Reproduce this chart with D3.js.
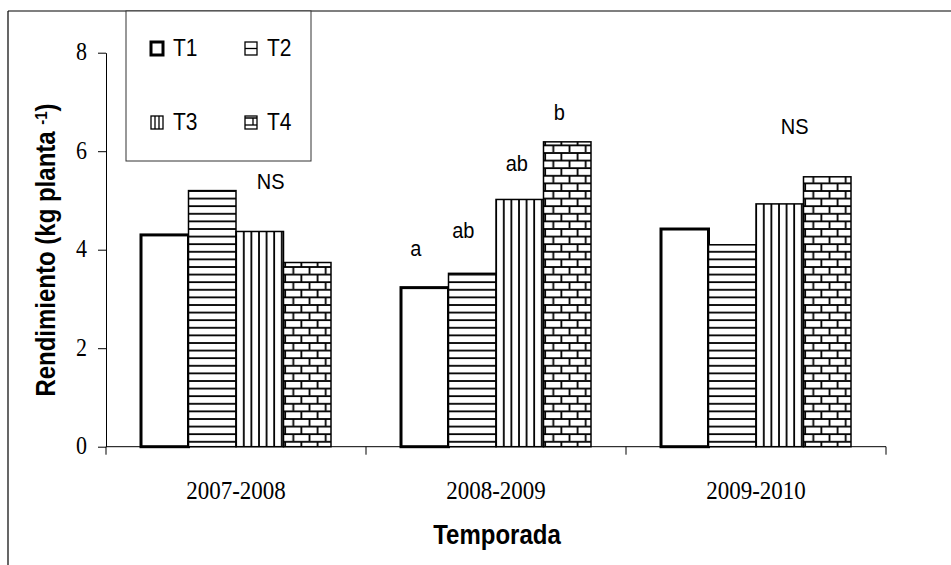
<!DOCTYPE html>
<html>
<head>
<meta charset="utf-8">
<script src="https://cdn.jsdelivr.net/npm/d3@7/dist/d3.min.js"></script>
<style>
  html, body { margin: 0; padding: 0; background: #fff; }
  svg { display: block; }
</style>
</head>
<body>
<svg id="chart" width="951" height="565"></svg>
<script>
// Yield per plant by season and treatment
const seasons = ["2007-2008", "2008-2009", "2009-2010"];
const treatments = ["T1", "T2", "T3", "T4"];
const yieldT1 = [4.30, 3.23, 4.42];
const yieldT2 = [5.20, 3.52, 4.10];
const yieldT3 = [4.37, 5.02, 4.93];
const yieldT4 = [3.74, 6.19, 5.48];
const yTicks = [0, 2, 4, 6, 8];
// significance letters: [season index, treatment index, text]
const letters = [
  [0, 2, "NS"],
  [1, 0, "a"],
  [1, 1, "ab"],
  [1, 2, "ab"],
  [1, 3, "b"],
  [2, 2, "NS"]
];

const series = [yieldT1, yieldT2, yieldT3, yieldT4];

const svg = d3.select("#chart");
const W = 951, H = 565;
const SANS = "'Liberation Sans', Arial, sans-serif";
const SERIF = "'Liberation Serif', 'Times New Roman', serif";
const TALL = 1.12; // glyphs are drawn slightly taller than wide

// place a text element at (x, y) with the tall glyph stretch
function placeText(sel, fx, fy) {
  sel.attr("x", 0).attr("y", 0)
    .attr("transform", (d, i) => `translate(${fx(d, i)},${fy(d, i)}) scale(1,${TALL})`);
}

// plot area
const plot = { left: 106, right: 886, top: 52.7, bottom: 446.7 };

const x0 = d3.scaleBand().domain(seasons).range([plot.left, plot.right]).padding(0);
const x1 = d3.scaleBand().domain(treatments).range([0, x0.bandwidth()])
  .paddingInner(0).paddingOuter(0.737);
const y = d3.scaleLinear().domain([0, 8]).range([plot.bottom, plot.top]);

// fill patterns
const defs = svg.append("defs");
const u = 7.6;
const pH = defs.append("pattern").attr("id", "pat-h").attr("patternUnits", "userSpaceOnUse")
  .attr("width", u).attr("height", u);
pH.append("rect").attr("width", u).attr("height", u).attr("fill", "#fff");
pH.append("line").attr("x1", 0).attr("x2", u).attr("y1", 1).attr("y2", 1)
  .attr("stroke", "#000").attr("stroke-width", 1.8);

const pV = defs.append("pattern").attr("id", "pat-v").attr("patternUnits", "userSpaceOnUse")
  .attr("width", u).attr("height", u);
pV.append("rect").attr("width", u).attr("height", u).attr("fill", "#fff");
pV.append("line").attr("y1", 0).attr("y2", u).attr("x1", 1).attr("x2", 1)
  .attr("stroke", "#000").attr("stroke-width", 1.8);

const bw = 2 * u + 1, bh = 2 * u;
const pB = defs.append("pattern").attr("id", "pat-b").attr("patternUnits", "userSpaceOnUse")
  .attr("width", bw).attr("height", bh);
pB.append("rect").attr("width", bw).attr("height", bh).attr("fill", "#fff");
pB.append("line").attr("x1", 0).attr("x2", bw).attr("y1", 1).attr("y2", 1)
  .attr("stroke", "#000").attr("stroke-width", 1.8);
pB.append("line").attr("x1", 0).attr("x2", bw).attr("y1", 1 + u).attr("y2", 1 + u)
  .attr("stroke", "#000").attr("stroke-width", 1.8);
pB.append("line").attr("x1", 1).attr("x2", 1).attr("y1", 1).attr("y2", 1 + u)
  .attr("stroke", "#000").attr("stroke-width", 1.8);
pB.append("line").attr("x1", 1 + bw / 2).attr("x2", 1 + bw / 2).attr("y1", 1 + u).attr("y2", 1 + bh)
  .attr("stroke", "#000").attr("stroke-width", 1.8);

const fills = ["#fff", "url(#pat-h)", "url(#pat-v)", "url(#pat-b)"];
const strokeW = [3, 1.5, 1.5, 1.5];

// outer frame (top and left edges)
svg.append("line").attr("x1", 8).attr("x2", W).attr("y1", 11).attr("y2", 11)
  .attr("stroke", "#000").attr("stroke-width", 1.2);
svg.append("line").attr("x1", 8).attr("x2", 8).attr("y1", 11).attr("y2", H)
  .attr("stroke", "#000").attr("stroke-width", 1.2);

// bars
const groups = svg.append("g").selectAll("g").data(seasons).join("g")
  .attr("transform", s => `translate(${x0(s)},0)`);
groups.selectAll("rect")
  .data((s, i) => treatments.map((t, k) => ({ t, k, v: series[k][i] })))
  .join("rect")
  .attr("x", d => x1(d.t))
  .attr("width", x1.bandwidth())
  .attr("y", d => y(d.v))
  .attr("height", d => y(0) - y(d.v))
  .attr("fill", d => fills[d.k])
  .attr("stroke", "#000")
  .attr("stroke-width", d => strokeW[d.k]);

// y axis
const yAxis = d3.axisLeft(y).tickValues(yTicks).tickSize(8).tickSizeOuter(0).tickPadding(11)
  .tickFormat(d3.format("d"));
const gy = svg.append("g").attr("transform", `translate(${plot.left},0)`).call(yAxis);
gy.selectAll("text").attr("font-family", SERIF).attr("font-size", 22).attr("fill", "#000")
  .attr("dy", null).attr("transform", `translate(0,7) scale(1,${TALL})`);
gy.selectAll("line, path").attr("stroke", "#000");

// x axis: line with boundary ticks, labels centred in each band
const gx = svg.append("g").attr("transform", `translate(0,${plot.bottom})`);
gx.append("line").attr("x1", plot.left).attr("x2", plot.right).attr("stroke", "#000");
const bounds = seasons.map(s => x0(s)).concat([plot.right]);
gx.selectAll("line.tk").data(bounds).join("line").attr("class", "tk")
  .attr("x1", d => d).attr("x2", d => d).attr("y1", 0).attr("y2", 8).attr("stroke", "#000");
gx.selectAll("text").data(seasons).join("text")
  .attr("text-anchor", "middle")
  .attr("font-family", SERIF)
  .attr("font-size", 23)
  .text(s => s)
  .call(placeText, s => x0(s) + x0.bandwidth() / 2, () => 52);

// axis titles
svg.append("text").attr("text-anchor", "middle")
  .attr("font-family", SANS).attr("font-weight", "bold")
  .attr("font-size", 24).text("Temporada")
  .call(placeText, () => 497, () => 544);

const yt = svg.append("text")
  .attr("transform", `translate(55,250) rotate(-90) scale(1,${TALL})`)
  .attr("text-anchor", "middle")
  .attr("font-family", SANS).attr("font-weight", "bold")
  .attr("font-size", 24);
yt.append("tspan").text("Rendimiento (kg planta ");
yt.append("tspan").attr("baseline-shift", "super").attr("font-size", 15).text("-1");
yt.append("tspan").text(")");

// significance letters, nudged in pixels from their bar tops
const nudge = [[11, -42], [-9, -32], [-9, -35], [-3, -28], [-8, -22], [15, -70]];
svg.append("g").selectAll("text").data(letters).join("text")
  .attr("text-anchor", "middle")
  .attr("font-family", SANS)
  .attr("font-size", 20)
  .text(d => d[2])
  .call(placeText,
    (d, i) => x0(seasons[d[0]]) + x1(treatments[d[1]]) + x1.bandwidth() / 2 + nudge[i][0],
    (d, i) => y(series[d[1]][d[0]]) + nudge[i][1]);

// legend
const lg = svg.append("g");
lg.append("rect").attr("x", 126).attr("y", 11).attr("width", 185).attr("height", 150)
  .attr("fill", "#fff").attr("stroke", "#333").attr("stroke-width", 1);
const legPos = [[151, 42], [245, 42], [151, 116], [245, 116]];
treatments.forEach((t, k) => {
  const [lx, ly] = legPos[k];
  lg.append("rect").attr("x", lx).attr("y", ly).attr("width", 12).attr("height", 13)
    .attr("fill", "#fff").attr("stroke", "#000")
    .attr("stroke-width", k === 0 ? 3 : 1.3);
  if (k === 1) lg.append("line").attr("x1", lx).attr("x2", lx + 12).attr("y1", ly + 6.5).attr("y2", ly + 6.5)
    .attr("stroke", "#000").attr("stroke-width", 1.3);
  if (k === 2) {
    lg.append("line").attr("x1", lx + 4).attr("x2", lx + 4).attr("y1", ly).attr("y2", ly + 13).attr("stroke", "#000").attr("stroke-width", 1.3);
    lg.append("line").attr("x1", lx + 8).attr("x2", lx + 8).attr("y1", ly).attr("y2", ly + 13).attr("stroke", "#000").attr("stroke-width", 1.3);
  }
  if (k === 3) {
    lg.append("line").attr("x1", lx).attr("x2", lx + 12).attr("y1", ly + 2).attr("y2", ly + 2).attr("stroke", "#000").attr("stroke-width", 1.5);
    lg.append("line").attr("x1", lx).attr("x2", lx + 12).attr("y1", ly + 9).attr("y2", ly + 9).attr("stroke", "#000").attr("stroke-width", 1.3);
    lg.append("line").attr("x1", lx + 8).attr("x2", lx + 8).attr("y1", ly + 2).attr("y2", ly + 9).attr("stroke", "#000").attr("stroke-width", 1.3);
  }
  lg.append("text")
    .attr("font-family", SANS).attr("font-size", 21)
    .text(t)
    .call(placeText, () => lx + 22, () => ly + 14);
});
</script>
</body>
</html>
